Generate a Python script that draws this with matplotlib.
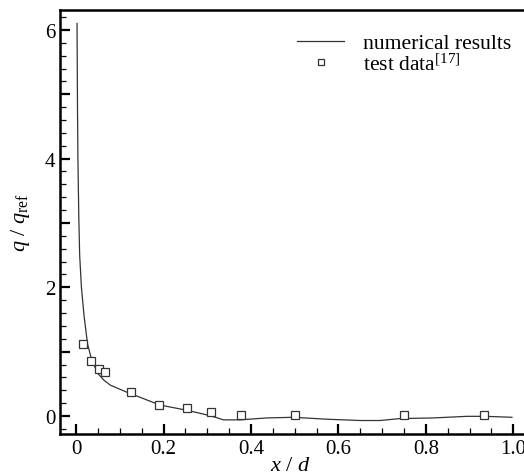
import matplotlib
matplotlib.use("Agg")
import matplotlib.pyplot as plt
from matplotlib.ticker import MultipleLocator, FuncFormatter

# numerical results (curve)
x_num = [0.002, 0.003, 0.004, 0.006, 0.008, 0.012, 0.018, 0.026, 0.036, 0.046,
         0.051, 0.063, 0.078, 0.116, 0.192, 0.253, 0.307, 0.337, 0.375, 0.436,
         0.497, 0.574, 0.65, 0.695, 0.741, 0.817, 0.894, 0.937, 0.997]
q_num = [6.1, 4.8, 4.0, 3.1, 2.5, 2.0, 1.56, 1.12, 0.86, 0.72,
         0.65, 0.56, 0.48, 0.37, 0.17, 0.09, 0.005, -0.06, -0.06, -0.03,
         -0.02, -0.05, -0.07, -0.07, -0.04, -0.03, -0.005, -0.005, -0.02]

# test data [17]
x_test = [0.016, 0.034, 0.053, 0.067, 0.125, 0.19, 0.253, 0.309, 0.376, 0.5, 0.75, 0.934]
q_test = [1.12, 0.86, 0.73, 0.68, 0.37, 0.17, 0.12, 0.07, 0.01, 0.01, 0.01, 0.01]

plt.rcParams["font.family"] = "Liberation Serif"
plt.rcParams["mathtext.fontset"] = "custom"
plt.rcParams["mathtext.rm"] = "Liberation Serif"
plt.rcParams["mathtext.it"] = "Liberation Serif:italic"

fig = plt.figure(figsize=(5.24, 4.77), dpi=100)
# right edge of the axes runs past the picture, as in the source image
ax = fig.add_axes([0.1145, 0.088, 0.905, 0.889])

ax.plot(x_num, q_num, color="#333333", lw=0.9, label="numerical results")
ax.plot(x_test, q_test, ls="none", marker="s", ms=5.5, mfc="white", mec="#333333",
        mew=0.9, label="test data$^{[17]}$")

ax.set_xlim(-0.037, 1.048)
ax.set_ylim(-0.28, 6.31)

ax.xaxis.set_major_locator(MultipleLocator(0.2))
ax.xaxis.set_minor_locator(MultipleLocator(0.05))
ax.xaxis.set_major_formatter(FuncFormatter(lambda v, p: "0" if abs(v) < 1e-9 else f"{v:.1f}"))
ax.yaxis.set_major_locator(MultipleLocator(1))
ax.yaxis.set_minor_locator(MultipleLocator(0.2))
ax.yaxis.set_major_formatter(FuncFormatter(lambda v, p: f"{int(round(v))}" if int(round(v)) % 2 == 0 else ""))

ax.tick_params(which="both", direction="in", top=False, right=False, labelsize=15)
ax.tick_params(which="major", length=7, width=1.6)
ax.tick_params(which="minor", length=4, width=0.9)
for s in ax.spines.values():
    s.set_linewidth(1.8)

ax.set_xlabel("$x\\ /\\ d$", fontsize=16)
ax.xaxis.set_label_coords(0.485, -0.052)
ax.set_ylabel("$q\\ /\\ q_{\\mathrm{ref}}$", fontsize=16, labelpad=9)

leg = ax.legend(loc="upper left", frameon=False, fontsize=15.6, markerscale=0.7,
                handlelength=2.17, handletextpad=0.88, labelspacing=0.0,
                bbox_to_anchor=(0.4816, 0.966), borderaxespad=0.0)

fig.savefig("out.png", dpi=100)
